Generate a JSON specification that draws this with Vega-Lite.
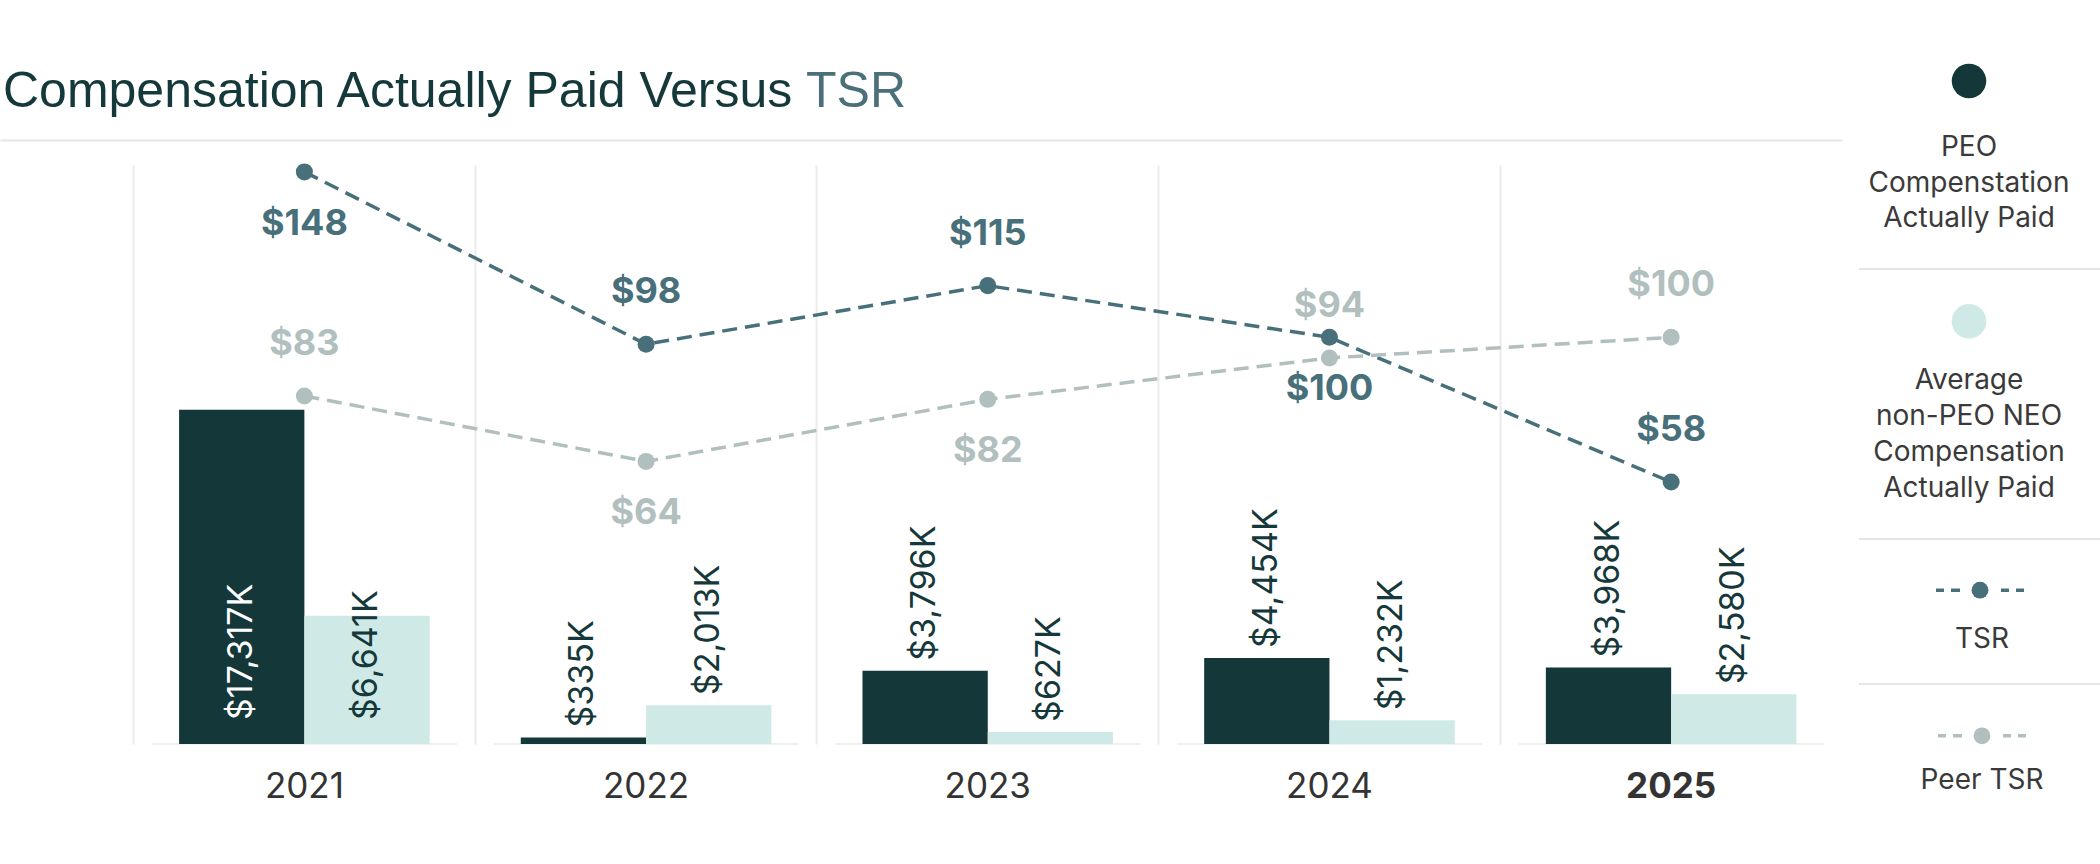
{
  "$schema": "https://vega.github.io/schema/vega-lite/v6.json",
  "padding": {"left": 0, "top": 63, "right": 0, "bottom": 0},
  "config": {
    "view": {"stroke": null},
    "font": "Inter",
    "concat": {"spacing": 0}
  },
  "datasets": {
    "comp": [
      {"year": "2021", "series": "PEO", "value": 17317},
      {"year": "2021", "series": "NEO", "value": 6641},
      {"year": "2022", "series": "PEO", "value": 335},
      {"year": "2022", "series": "NEO", "value": 2013},
      {"year": "2023", "series": "PEO", "value": 3796},
      {"year": "2023", "series": "NEO", "value": 627},
      {"year": "2024", "series": "PEO", "value": 4454},
      {"year": "2024", "series": "NEO", "value": 1232},
      {"year": "2025", "series": "PEO", "value": 3968},
      {"year": "2025", "series": "NEO", "value": 2580}
    ],
    "tsr": [
      {"year": "2021", "series": "TSR", "value": 148},
      {"year": "2022", "series": "TSR", "value": 98},
      {"year": "2023", "series": "TSR", "value": 115},
      {"year": "2024", "series": "TSR", "value": 100},
      {"year": "2025", "series": "TSR", "value": 58},
      {"year": "2021", "series": "Peer TSR", "value": 83},
      {"year": "2022", "series": "Peer TSR", "value": 64},
      {"year": "2023", "series": "Peer TSR", "value": 82},
      {"year": "2024", "series": "Peer TSR", "value": 94},
      {"year": "2025", "series": "Peer TSR", "value": 100}
    ],
    "legend": [
      {"series": "PEO", "label": "PEO\nCompenstation\nActually Paid"},
      {"series": "NEO", "label": "Average\nnon-PEO NEO\nCompensation\nActually Paid"},
      {"series": "TSR", "label": "TSR"},
      {"series": "Peer TSR", "label": "Peer TSR"}
    ]
  },
  "hconcat": [
    {
      "vconcat": [
        {
          "hconcat": [
            {
              "width": 806, "height": 1,
              "data": {"values": []},
              "mark": "point",
              "title": {"text": "Compensation Actually Paid Versus", "anchor": "start", "frame": "group", "font": "Liberation Sans", "fontSize": 50, "fontWeight": "normal", "color": "#15383a", "offset": 0, "dx": 3}
            },
            {
              "width": 100, "height": 1,
              "data": {"values": []},
              "mark": "point",
              "title": {"text": "TSR", "anchor": "start", "frame": "group", "font": "Liberation Sans", "fontSize": 50, "fontWeight": "normal", "color": "#4b7079", "offset": 0}
            }
          ],
          "spacing": 0
        },
        {
          "width": 1842,
          "height": 579,
          "resolve": {"scale": {"y": "independent"}},
          "layer": [
            {
              "data": {"name": "comp"},
              "layer": [
                {
                  "transform": [{"filter": "datum.series === 'PEO'"}],
                  "mark": {"type": "tick", "orient": "horizontal", "size": 305, "thickness": 2, "color": "#e8e8e8"},
                  "encoding": {
                    "x": {
                      "field": "year", "type": "nominal",
                      "scale": {"type": "band", "domain": ["2021", "2022", "2023", "2024", "2025"], "paddingInner": 0, "paddingOuter": 0.1954, "align": 1},
                      "axis": {"orient": "top", "offset": 25, "domain": true, "domainColor": "#e6e6e6", "domainWidth": 2, "ticks": false, "labels": false, "grid": true, "gridColor": "#ebebeb", "gridWidth": 2, "bandPosition": 0, "title": null}
                    },
                    "y": {"datum": 0, "type": "quantitative", "scale": {"domain": [0, 29300]}, "axis": null}
                  }
                },
                {
                  "mark": {"type": "bar"},
                  "encoding": {
                    "x": {
                      "field": "year", "type": "nominal",
                      "axis": {"orient": "bottom", "domain": false, "ticks": false, "grid": false, "labelAngle": 0, "labelFont": "Inter", "labelFontSize": 35, "labelColor": "#333333", "labelPadding": 25, "labelFontWeight": {"condition": {"test": "datum.value === '2025'", "value": "bold"}, "value": "normal"}, "title": null}
                    },
                    "xOffset": {"field": "series", "type": "nominal", "scale": {"type": "band", "domain": ["PEO", "NEO"], "paddingInner": 0, "paddingOuter": 0.3636}},
                    "y": {"field": "value", "type": "quantitative", "axis": null},
                    "color": {"field": "series", "type": "nominal", "scale": {"domain": ["PEO", "NEO", "TSR", "Peer TSR"], "range": ["#143739", "#cfeae6", "#48707a", "#b2bfbf"]}, "legend": null}
                  }
                },
                {
                  "transform": [{"filter": "datum.value < 5000"}],
                  "mark": {"type": "text", "angle": 270, "align": "left", "baseline": "middle", "dx": 10, "font": "Inter", "fontSize": 34, "color": "#15383a", "text": {"expr": "format(datum.value, '$,') + 'K'"}},
                  "encoding": {
                    "x": {"field": "year", "type": "nominal", "axis": null},
                    "xOffset": {"field": "series", "type": "nominal"},
                    "y": {"field": "value", "type": "quantitative", "axis": null}
                  }
                },
                {
                  "transform": [{"filter": "datum.value >= 5000"}],
                  "mark": {"type": "text", "angle": 270, "align": "left", "baseline": "middle", "dx": 24, "font": "Inter", "fontSize": 34, "text": {"expr": "format(datum.value, '$,') + 'K'"}},
                  "encoding": {
                    "x": {"field": "year", "type": "nominal", "axis": null},
                    "xOffset": {"field": "series", "type": "nominal"},
                    "y": {"datum": 0, "type": "quantitative", "axis": null},
                    "color": {"condition": {"test": "datum.series === 'PEO'", "value": "#ffffff"}, "value": "#15383a"}
                  }
                }
              ]
            },
            {
              "data": {"name": "tsr"},
              "encoding": {
                "x": {"field": "year", "type": "nominal", "axis": null},
                "y": {"field": "value", "type": "quantitative", "scale": {"domain": [-18, 150], "zero": false, "nice": false}, "axis": null},
                "color": {"field": "series", "type": "nominal", "scale": {"domain": ["PEO", "NEO", "TSR", "Peer TSR"], "range": ["#143739", "#cfeae6", "#48707a", "#b2bfbf"]}, "legend": null}
              },
              "layer": [
                {"mark": {"type": "line", "strokeDash": [15, 8], "strokeWidth": 3.5}},
                {"mark": {"type": "circle", "size": 290, "opacity": 1}},
                {
                  "transform": [{"filter": "(datum.series === 'TSR' && (datum.year === '2021' || datum.year === '2024')) || (datum.series === 'Peer TSR' && (datum.year === '2022' || datum.year === '2023'))"}],
                  "mark": {"type": "text", "baseline": "middle", "align": "center", "dy": 52, "font": "Inter", "fontSize": 36, "fontWeight": "bold", "text": {"expr": "'$' + datum.value"}}
                },
                {
                  "transform": [{"filter": "!((datum.series === 'TSR' && (datum.year === '2021' || datum.year === '2024')) || (datum.series === 'Peer TSR' && (datum.year === '2022' || datum.year === '2023')))"}],
                  "mark": {"type": "text", "baseline": "middle", "align": "center", "dy": -52, "font": "Inter", "fontSize": 36, "fontWeight": "bold", "text": {"expr": "'$' + datum.value"}}
                }
              ]
            }
          ]
        }
      ],
      "spacing": 22
    },
    {
      "vconcat": [
        {
          "width": 242, "height": 151,
          "data": {"name": "legend"},
          "transform": [{"filter": "datum.series === 'PEO'"}],
          "encoding": {
            "y": {"field": "series", "type": "nominal", "bandPosition": 0, "scale": {"type": "band", "paddingInner": 0, "paddingOuter": 0}, "axis": null},
            "color": {"field": "series", "type": "nominal", "scale": {"domain": ["PEO", "NEO", "TSR", "Peer TSR"], "range": ["#143739", "#cfeae6", "#48707a", "#b2bfbf"]}, "legend": null}
          },
          "layer": [
            {"mark": {"type": "circle", "size": 1195, "opacity": 1, "xOffset": -11, "yOffset": -36}},
            {"mark": {"type": "text", "font": "Inter", "fontSize": 28, "align": "center", "baseline": "alphabetic", "lineBreak": "\n", "lineHeight": 35.5, "dx": -11, "dy": 39}, "encoding": {"text": {"field": "label"}, "color": {"value": "#3a3a3a"}}}
          ]
        },
        {
          "width": 242, "height": 269,
          "data": {"name": "legend"},
          "transform": [{"filter": "datum.series === 'NEO'"}],
          "encoding": {
            "y": {"field": "series", "type": "nominal", "bandPosition": 0, "scale": {"type": "band", "paddingInner": 0, "paddingOuter": 0}, "axis": null},
            "color": {"field": "series", "type": "nominal", "scale": {"domain": ["PEO", "NEO", "TSR", "Peer TSR"], "range": ["#143739", "#cfeae6", "#48707a", "#b2bfbf"]}, "legend": null}
          },
          "layer": [
            {"mark": {"type": "rule", "strokeWidth": 2}, "encoding": {"color": {"value": "#e6e6e6"}}},
            {"mark": {"type": "circle", "size": 1195, "opacity": 1, "xOffset": -11, "yOffset": 52.3}},
            {"mark": {"type": "text", "font": "Inter", "fontSize": 28, "align": "center", "baseline": "alphabetic", "lineBreak": "\n", "lineHeight": 35.8, "dx": -11, "dy": 120.4}, "encoding": {"text": {"field": "label"}, "color": {"value": "#3a3a3a"}}}
          ]
        },
        {
          "width": 242, "height": 144,
          "data": {"name": "legend"},
          "transform": [{"filter": "datum.series === 'TSR'"}],
          "encoding": {
            "y": {"field": "series", "type": "nominal", "bandPosition": 0, "scale": {"type": "band", "paddingInner": 0, "paddingOuter": 0}, "axis": null},
            "color": {"field": "series", "type": "nominal", "scale": {"domain": ["PEO", "NEO", "TSR", "Peer TSR"], "range": ["#143739", "#cfeae6", "#48707a", "#b2bfbf"]}, "legend": null}
          },
          "layer": [
            {"mark": {"type": "rule", "strokeWidth": 2}, "encoding": {"color": {"value": "#e6e6e6"}}},
            {"mark": {"type": "point", "filled": true, "opacity": 1, "strokeWidth": 0, "size": 10000, "shape": "M-0.88,-0.035H-0.72V0.035H-0.88Z M-0.58,-0.035H-0.40V0.035H-0.58Z M0.42,-0.035H0.58V0.035H0.42Z M0.72,-0.035H0.88V0.035H0.72Z", "xOffset": 0, "yOffset": 51.2}},
            {"mark": {"type": "circle", "size": 283, "opacity": 1, "xOffset": 0, "yOffset": 51.2}},
            {"mark": {"type": "text", "font": "Inter", "fontSize": 28, "align": "center", "baseline": "alphabetic", "dx": 2, "dy": 109}, "encoding": {"text": {"field": "label"}, "color": {"value": "#3a3a3a"}}}
          ]
        },
        {
          "width": 242, "height": 150,
          "data": {"name": "legend"},
          "transform": [{"filter": "datum.series === 'Peer TSR'"}],
          "encoding": {
            "y": {"field": "series", "type": "nominal", "bandPosition": 0, "scale": {"type": "band", "paddingInner": 0, "paddingOuter": 0}, "axis": null},
            "color": {"field": "series", "type": "nominal", "scale": {"domain": ["PEO", "NEO", "TSR", "Peer TSR"], "range": ["#143739", "#cfeae6", "#48707a", "#b2bfbf"]}, "legend": null}
          },
          "layer": [
            {"mark": {"type": "rule", "strokeWidth": 2}, "encoding": {"color": {"value": "#e6e6e6"}}},
            {"mark": {"type": "point", "filled": true, "opacity": 1, "strokeWidth": 0, "size": 10000, "shape": "M-0.88,-0.035H-0.72V0.035H-0.88Z M-0.58,-0.035H-0.40V0.035H-0.58Z M0.42,-0.035H0.58V0.035H0.42Z M0.72,-0.035H0.88V0.035H0.72Z", "xOffset": 2, "yOffset": 51.8}},
            {"mark": {"type": "circle", "size": 283, "opacity": 1, "xOffset": 2, "yOffset": 51.8}},
            {"mark": {"type": "text", "font": "Inter", "fontSize": 28, "align": "center", "baseline": "alphabetic", "dx": 2, "dy": 105.3}, "encoding": {"text": {"field": "label"}, "color": {"value": "#3a3a3a"}}}
          ]
        }
      ],
      "spacing": 0
    }
  ],
  "spacing": 16
}
